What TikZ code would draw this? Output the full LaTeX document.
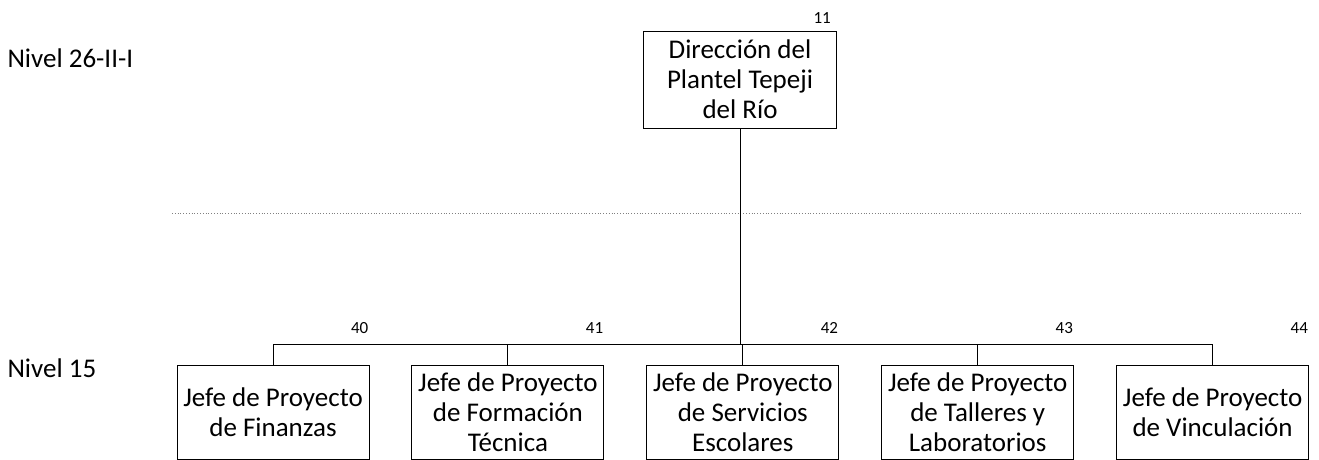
\documentclass[tikz,border=0pt]{standalone}
\usepackage{fontspec}
\setmainfont{Carlito}
\usetikzlibrary{positioning}

\begin{document}
\begin{tikzpicture}[x=1pt,y=1pt,
    puesto/.style={draw,line width=0.9pt,minimum width=192pt,minimum height=94pt,
      inner sep=1pt,align=center,font=\fontsize{27}{30}\selectfont},
    nivel/.style={anchor=west,font=\fontsize{27}{30}\selectfont},
    clave/.style={anchor=base east,inner sep=0pt,font=\fontsize{17}{20}\selectfont},
    linea/.style={line width=0.9pt}]
    \useasboundingbox (0,0) rectangle (1319,460);
    % Levels:
    \node[nivel] (n26) at (4,402) {Nivel 26-II-I};
    \node[nivel] (n15) at (4,92) {Nivel 15};
    \coordinate (sepL) at (172,247);
    \coordinate (sepR) at (1303,247);
    \draw[dotted,gray,line width=0.8pt] (sepL) -- (sepR);
    % Positions:
    \node[puesto,minimum width=193pt,minimum height=97pt] (dir) at (740,380.5)
      {Dirección del\\Plantel Tepeji\\del Río};
    \node[puesto] (fin) at (273,48) {Jefe de Proyecto\\de Finanzas};
    \node[puesto,right=42pt of fin] (form) {Jefe de Proyecto\\de Formación\\Técnica};
    \node[puesto,right=42pt of form] (serv) {Jefe de Proyecto\\de Servicios\\Escolares};
    \node[puesto,right=42pt of serv] (tall) {Jefe de Proyecto\\de Talleres y\\Laboratorios};
    \node[puesto,right=42pt of tall] (vinc) {Jefe de Proyecto\\de Vinculación};
    % Keys:
    \node[clave] (k11) at ([xshift=-6pt,yshift=7pt]dir.north east) {11};
    \node[clave] (k40) at ([xshift=-1pt,yshift=31pt]fin.north east) {40};
    \node[clave] (k41) at ([xshift=-1pt,yshift=31pt]form.north east) {41};
    \node[clave] (k42) at ([xshift=-1pt,yshift=31pt]serv.north east) {42};
    \node[clave] (k43) at ([xshift=-1pt,yshift=31pt]tall.north east) {43};
    \node[clave] (k44) at ([xshift=-1pt,yshift=31pt]vinc.north east) {44};
    % Lines:
    \coordinate (bus) at (0,116);
    \draw[linea] (dir.south) -- (dir.south |- bus);
    \draw[linea] (fin.north) -- (fin.north |- bus) -| (vinc.north);
    \foreach \n in {form,serv,tall}
      \draw[linea] (\n.north) -- (\n.north |- bus);
\end{tikzpicture}
\end{document}
